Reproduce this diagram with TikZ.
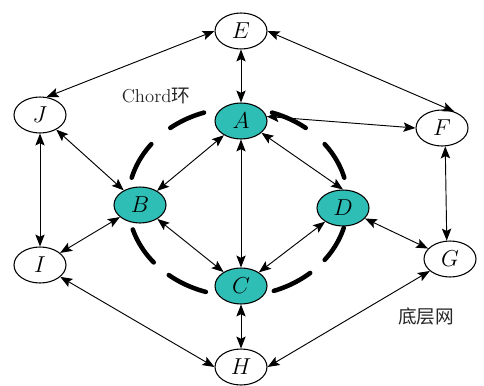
\documentclass[tikz,border=0pt]{standalone}
\usepackage{fontspec}
\newfontfamily\cjk{Noto Sans CJK SC}
\usetikzlibrary{arrows.meta,shapes.geometric}
\definecolor{chordteal}{RGB}{46,190,181}
\begin{document}
\begin{tikzpicture}[x=0.75pt,y=-0.75pt,
  peer/.style={ellipse, draw, line width=0.8pt, minimum width=39pt,
    minimum height=27pt, inner sep=0pt, font=\fontsize{16}{18}\selectfont},
  chord/.style={peer, fill=chordteal},
  base/.style={peer, fill=white},
  link/.style={line width=0.7pt,
    {Stealth[length=9pt,width=7pt,inset=1.8pt]}-{Stealth[length=9pt,width=7pt,inset=1.8pt]}},
  ring/.style={line width=3.4pt, line cap=round},
  lbl/.style={font=\fontsize{14}{16}\selectfont, text=black!85}]
\useasboundingbox (0,0) rectangle (484,385);

% the Chord ring: thick dash segments around an ellipse
\foreach \s/\e in {15/38, 52/72, 108/128, 142/165, 197/220, 231/253, 289/311, 322/344}
  \draw[ring] plot[domain=\s:\e, samples=24, variable=\t]
    ({238+110*cos(\t)},{202-94*sin(\t)});

% peers
\node[base]  (E) at (241,31)  {$E$};
\node[base]  (J) at (40,115)  {$J$};
\node[base]  (F) at (442,128) {$F$};
\node[chord] (A) at (241,121) {$A$};
\node[chord] (B) at (140,205) {$B$};
\node[chord] (D) at (343,208) {$D$};
\node[chord] (C) at (241,286) {$C$};
\node[base]  (I) at (40,265)  {$I$};
\node[base]  (G) at (450,259) {$G$};
\node[base]  (H) at (241,367) {$H$};

% links
\draw[link] (E.west) -- (J.70);
\draw[link] (E.east) -- (F.53);
\draw[link] (E) -- (A);
\draw[link] (A.10) -- (F.west);
\draw[link] (A) -- (B);
\draw[link] (A) -- (C);
\draw[link] (A.-30) -- (D.north);
\draw[link] (J) -- (B);
\draw[link] (J) -- (I);
\draw[link] (B) -- (I);
\draw[link] (B) -- (C);
\draw[link] (D) -- (C);
\draw[link] (D) -- (G);
\draw[link] (F.-80) -- (G.100);
\draw[link] (C) -- (H);
\draw[link] (I) -- (H.west);
\draw[link] (G) -- (H.east);

% labels
\node[lbl] (chordlbl) at (156,96)  {Chord{\cjk 环}};
\node[lbl] (baselbl)  at (426,316) {\cjk 底层网};
\end{tikzpicture}
\end{document}
